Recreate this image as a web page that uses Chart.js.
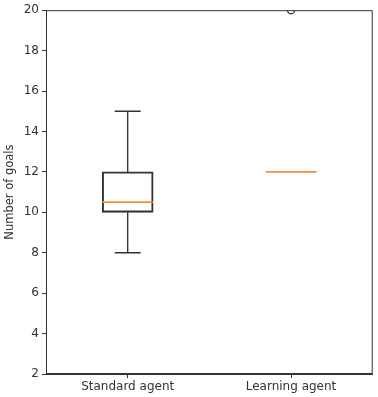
<!DOCTYPE html>
<html>
<head>
<meta charset="utf-8">
<script src="https://cdn.jsdelivr.net/npm/chart.js@4/dist/chart.umd.min.js"></script>
<style>
html,body{margin:0;padding:0;background:#fff;}
#wrap{width:378px;height:397px;}
</style>
</head>
<body>
<div id="wrap"><canvas id="c" width="378" height="397"></canvas></div>
<script>
const categories = ['Standard agent', 'Learning agent'];
const whiskerLow = [8, 12];
const q1 = [10, 12];
const median = [10.5, 12];
const q3 = [12, 12];
const whiskerHigh = [15, 12];
const outliers = [null, 20];
const yTicks = [2, 4, 6, 8, 10, 12, 14, 16, 18, 20];

const boxData = categories.map((c, i) => (q3[i] > q1[i] ? [q1[i], q3[i]] : null));

const BOX_W = 51, CAP_W = 26;
const INK = '#333333';
const ORANGE = '#f0913f';

const boxPlugin = {
  id: 'boxparts',
  afterDatasetsDraw(chart) {
    const ctx = chart.ctx;
    const xs = chart.scales.x, ys = chart.scales.y;
    ctx.save();
    categories.forEach((c, i) => {
      const x = xs.getPixelForValue(i);
      ctx.strokeStyle = INK;
      ctx.lineWidth = 1.4;
      if (whiskerHigh[i] > q3[i] || whiskerLow[i] < q1[i]) {
        ctx.beginPath();
        ctx.moveTo(x, ys.getPixelForValue(q1[i]));
        ctx.lineTo(x, ys.getPixelForValue(whiskerLow[i]));
        ctx.moveTo(x, ys.getPixelForValue(q3[i]));
        ctx.lineTo(x, ys.getPixelForValue(whiskerHigh[i]));
        ctx.moveTo(x - CAP_W / 2, ys.getPixelForValue(whiskerLow[i]));
        ctx.lineTo(x + CAP_W / 2, ys.getPixelForValue(whiskerLow[i]));
        ctx.moveTo(x - CAP_W / 2, ys.getPixelForValue(whiskerHigh[i]));
        ctx.lineTo(x + CAP_W / 2, ys.getPixelForValue(whiskerHigh[i]));
        ctx.stroke();
      }
      ctx.strokeStyle = ORANGE;
      ctx.lineWidth = 1.8;
      ctx.beginPath();
      const my = ys.getPixelForValue(median[i]);
      ctx.moveTo(x - BOX_W / 2, my);
      ctx.lineTo(x + BOX_W / 2, my);
      ctx.stroke();
    });
    const a = chart.chartArea;
    ctx.strokeStyle = INK;
    ctx.lineWidth = 1;
    ctx.strokeRect(a.left + 0.5, a.top + 0.5, a.right - a.left - 1, a.bottom - a.top - 1);
    ctx.restore();
  }
};

new Chart(document.getElementById('c'), {
  data: {
    labels: categories,
    datasets: [
      {
        type: 'bar',
        data: boxData,
        barThickness: BOX_W,
        backgroundColor: 'rgba(0,0,0,0)',
        borderColor: INK,
        borderWidth: 1.4,
        borderSkipped: false
      },
      {
        type: 'line',
        data: outliers,
        showLine: false,
        pointStyle: 'circle',
        pointRadius: 3.5,
        pointBorderWidth: 1.3,
        pointBorderColor: INK,
        pointBackgroundColor: 'rgba(0,0,0,0)'
      }
    ]
  },
  options: {
    responsive: false,
    animation: false,
    layout: { padding: { top: 9, right: 2, left: 3, bottom: 0 } },
    plugins: { legend: { display: false }, tooltip: { enabled: false } },
    scales: {
      x: {
        type: 'category',
        offset: true,
        grid: { display: true, drawOnChartArea: false, offset: false, tickLength: 4, color: INK },
        border: { display: true, color: INK },
        ticks: { color: '#333', font: { family: 'DejaVu Sans', size: 12 }, padding: 2 },
        afterFit(s) { s.height = 23; }
      },
      y: {
        min: 2, max: 20,
        afterBuildTicks(s) { s.ticks = yTicks.map(v => ({ value: v })); },
        grid: { display: true, drawOnChartArea: false, tickLength: 4, color: INK },
        border: { display: true, color: INK },
        ticks: { color: '#333', font: { family: 'DejaVu Sans', size: 12 }, padding: 3 },
        title: { display: true, text: 'Number of goals', color: '#333', font: { family: 'DejaVu Sans', size: 11.5 }, padding: 0 },
        afterFit(s) { s.width = 43; }
      }
    }
  },
  plugins: [boxPlugin]
});
</script>
</body>
</html>
